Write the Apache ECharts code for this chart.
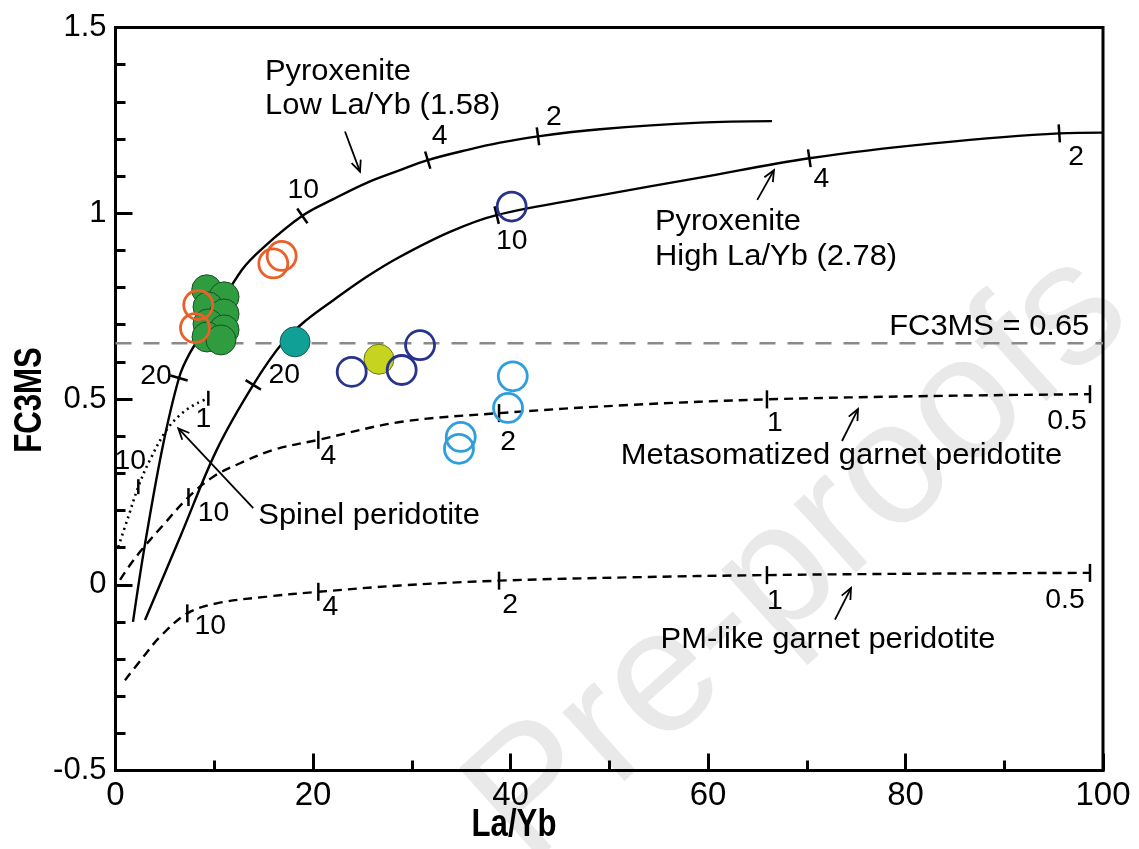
<!DOCTYPE html>
<html>
<head>
<meta charset="utf-8">
<title>FC3MS vs La/Yb</title>
<script src="https://cdn.jsdelivr.net/npm/echarts@6/dist/echarts.min.js"></script>
<style>
  html, body { margin: 0; padding: 0; background: #ffffff; }
  #chart { width: 1139px; height: 849px; }
</style>
</head>
<body>
<div id="chart"></div>
<script>
// ---------------- data ----------------
const xAxisTicks = [0, 20, 40, 60, 80, 100];
const yAxisTicks = [-0.5, 0, 0.5, 1, 1.5];
const fc3msThreshold = 0.65;

// model melt curves: [La/Yb, FC3MS]
const pyroxeniteLow = [
  [1.77, -0.100], [2.89, 0.094], [4.71, 0.363], [6.43, 0.5565], [7.54, 0.624],
  [9.67, 0.713], [12.81, 0.848], [14.94, 0.907], [18.92, 0.993], [22.06, 1.038],
  [25.44, 1.082], [28.81, 1.116], [31.62, 1.143], [35.56, 1.170], [38.94, 1.190],
  [42.78, 1.207], [49.06, 1.226], [59.19, 1.244], [66.48, 1.248]
];
const pyroxeniteHigh = [
  [2.99, -0.095], [6.63, 0.134], [10.25, 0.363], [13.95, 0.538], [17.00, 0.654],
  [19.36, 0.713], [22.06, 0.766], [25.44, 0.829], [28.81, 0.883], [33.87, 0.950],
  [38.60, 0.995], [49.06, 1.048], [59.19, 1.096], [70.26, 1.148], [82.81, 1.188],
  [95.57, 1.215], [100, 1.217]
];
const spinelPeridotite = [
  [0.28, 0.102], [1.30, 0.183], [2.31, 0.264], [3.49, 0.336], [5.18, 0.417],
  [6.70, 0.461], [8.22, 0.488], [9.40, 0.502]
];
const metasomatizedGarnet = [
  [0.46, 0.013], [1.47, 0.053], [2.65, 0.094], [4.84, 0.161], [7.39, 0.236],
  [9.90, 0.291], [12.61, 0.327], [15.98, 0.363], [20.54, 0.390], [28.81, 0.438],
  [38.84, 0.462], [52.10, 0.484], [65.97, 0.499], [82.48, 0.508], [98.68, 0.513]
];
const pmLikeGarnet = [
  [0.96, -0.257], [2.82, -0.194], [4.51, -0.140], [7.27, -0.077], [10.25, -0.050],
  [15.31, -0.032], [20.54, -0.019], [28.81, -0.002], [38.84, 0.011], [52.10, 0.020],
  [65.97, 0.026], [82.48, 0.030], [98.68, 0.032]
];

// melting-degree marks along each curve: [La/Yb, FC3MS, label]
const pyroxeniteLowTicks = [[6.43, 0.5565, '20'], [18.92, 0.993, '10'], [31.62, 1.143, '4'], [42.78, 1.207, '2']];
const pyroxeniteHighTicks = [[13.95, 0.538, '20'], [38.60, 0.995, '10'], [70.26, 1.148, '4'], [95.57, 1.215, '2']];
const spinelTicks = [[2.31, 0.264, '10'], [9.40, 0.502, '1']];
const metasomatizedTicks = [[7.39, 0.236, '10'], [20.54, 0.390, '4'], [38.84, 0.462, '2'], [65.97, 0.499, '1'], [98.68, 0.513, '0.5']];
const pmLikeTicks = [[7.27, -0.077, '10'], [20.54, -0.019, '4'], [38.84, 0.011, '2'], [65.97, 0.026, '1'], [98.68, 0.032, '0.5']];

// samples: [La/Yb, FC3MS]
const samplesOrange = [[8.38, 0.753], [8.05, 0.691], [15.98, 0.865], [16.83, 0.885]];
const samplesGreen = [
  [9.24, 0.794], [10.99, 0.775], [9.37, 0.748], [10.99, 0.729],
  [9.37, 0.702], [10.99, 0.686], [9.27, 0.667], [10.68, 0.659]
];
const samplesTeal = [[18.18, 0.654]];
const samplesYellowGreen = [[26.68, 0.607]];
const samplesNavy = [[23.92, 0.573], [28.98, 0.578], [30.84, 0.645], [40.12, 1.018]];
const samplesLightBlue = [[40.23, 0.561], [39.75, 0.476], [34.96, 0.398], [34.78, 0.366]];

// text annotations: [text, La/Yb, FC3MS]
const annotationTexts = [
  ['Pyroxenite', 15.14, 1.38],
  ['Low La/Yb (1.58)', 15.14, 1.29],
  ['Pyroxenite', 54.63, 0.977],
  ['High La/Yb (2.78)', 54.63, 0.883],
  ['FC3MS = 0.65', 98.61, 0.695],
  ['Spinel peridotite', 14.46, 0.186],
  ['Metasomatized garnet peridotite', 51.16, 0.348],
  ['PM-like garnet peridotite', 55.2, -0.147]
];
// pointer arrows: [fromX, fromY, toX, toY]
const annotationArrows = [
  [23.24, 1.220, 24.76, 1.112],
  [64.99, 1.036, 66.68, 1.116],
  [13.95, 0.206, 6.36, 0.421],
  [73.57, 0.387, 75.19, 0.473],
  [72.86, -0.094, 74.48, -0.009]
];

// ---------------- styling ----------------
const FONT = '"Liberation Sans", Arial, Helvetica, sans-serif';

// pixel offsets of the mark labels from their marks
const lowLabelOffsets = [[-23, -1], [1, -25], [12, -24], [16, -19]];
const highLabelOffsets = [[31, -9], [15, 26], [12, 21], [17, 24]];
const spinelLabelOffsets = [[-8, -25], [-5, 21]];
const metaLabelOffsets = [[25, 16], [10, 17], [9, 29], [8, 24], [-23, 27]];
const pmLabelOffsets = [[23, 13], [12, 16], [11, 25], [8, 26], [-25, 28]];

const chart = echarts.init(document.getElementById('chart'), null, { renderer: 'canvas' });

function curveSeries(name, pts, lineStyle) {
  return {
    type: 'line', name, data: pts, showSymbol: false, symbol: 'none',
    smooth: 0.35, silent: true, z: 3,
    lineStyle: Object.assign({ color: '#000' }, lineStyle)
  };
}

function curveTicks(name, curve, ticks, normal, length, labelOffsets) {
  return {
    type: 'custom', name, coordinateSystem: 'cartesian2d', clip: false, silent: true, z: 4,
    data: ticks.map(t => [t[0], t[1]]),
    encode: { x: 0, y: 1 },
    renderItem(params, api) {
      const t = ticks[params.dataIndex];
      const p = api.coord([t[0], t[1]]);
      let nx = 0, ny = 1;
      if (normal) {
        // local direction from the neighbouring curve vertices
        let k = 0, best = Infinity;
        curve.forEach((c, i) => {
          const d = Math.hypot(c[0] - t[0], (c[1] - t[1]) * 50);
          if (d < best) { best = d; k = i; }
        });
        const a = api.coord(curve[Math.max(k - 1, 0)]);
        const b = api.coord(curve[Math.min(k + 1, curve.length - 1)]);
        const tx = b[0] - a[0], ty = b[1] - a[1];
        const l = Math.hypot(tx, ty) || 1;
        nx = -ty / l; ny = tx / l;
      }
      const h = length / 2;
      const off = labelOffsets[params.dataIndex];
      return {
        type: 'group',
        children: [
          { type: 'line', shape: { x1: p[0] - nx * h, y1: p[1] - ny * h, x2: p[0] + nx * h, y2: p[1] + ny * h },
            style: { stroke: '#000', lineWidth: 2.5 } },
          { type: 'text', x: p[0] + off[0], y: p[1] + off[1], scaleX: 1.05,
            style: { text: t[2], fill: '#000', font: '27px ' + FONT, align: 'center', verticalAlign: 'middle' } }
        ]
      };
    }
  };
}

function sampleSeries(name, pts, filled, color, border) {
  return {
    type: 'scatter', name, data: pts, symbol: 'circle', silent: true,
    symbolSize: filled ? 30 : 29,
    z: filled ? 5 : 6,
    itemStyle: filled
      ? { color: color, borderColor: border, borderWidth: 1, opacity: 1 }
      : { color: 'rgba(0,0,0,0)', borderColor: color, borderWidth: 2.8, opacity: 1 }
  };
}

const option = {
  animation: false,
  backgroundColor: '#ffffff',
  grid: {
    left: 115.5, right: 36, top: 27.5, bottom: 78.5,
    show: true, borderColor: '#000', borderWidth: 3, backgroundColor: 'rgba(0,0,0,0)'
  },
  xAxis: {
    type: 'value',
    min: xAxisTicks[0], max: xAxisTicks[xAxisTicks.length - 1],
    interval: xAxisTicks[1] - xAxisTicks[0],
    axisLine: { show: true, onZero: false, lineStyle: { color: '#000', width: 3 } },
    axisTick: { show: true, inside: true, length: 17, lineStyle: { color: '#000', width: 3 } },
    minorTick: { show: true, splitNumber: 2, length: 10, lineStyle: { color: '#000', width: 3 } },
    splitLine: { show: false },
    axisLabel: { color: '#000', fontSize: 33, fontFamily: FONT, margin: 9 }
  },
  yAxis: {
    type: 'value',
    min: yAxisTicks[0], max: yAxisTicks[yAxisTicks.length - 1],
    interval: yAxisTicks[1] - yAxisTicks[0],
    axisLine: { show: true, onZero: false, lineStyle: { color: '#000', width: 3 } },
    axisTick: { show: true, inside: true, length: 17, lineStyle: { color: '#000', width: 3 } },
    minorTick: { show: true, splitNumber: 5, length: 10, lineStyle: { color: '#000', width: 3 } },
    splitLine: { show: false },
    axisLabel: { color: '#000', fontSize: 31, fontFamily: FONT, margin: 9 }
  },
  graphic: [
    {
      // faint diagonal stamp behind the plot
      type: 'text', x: 800, y: 558, rotation: 42 * Math.PI / 180, z: -100, silent: true,
      style: { text: 'Pre-proofs', font: '175px ' + FONT, fill: '#e9e9e9', align: 'center', verticalAlign: 'middle' }
    },
    {
      // axis titles in a condensed bold face
      type: 'text', x: 514, y: 826, scaleX: 0.82, silent: true,
      style: { text: 'La/Yb', font: 'bold 38px ' + FONT, fill: '#000', align: 'center', verticalAlign: 'middle' }
    },
    {
      type: 'text', x: 31, y: 400, rotation: Math.PI / 2, scaleX: 0.82, silent: true,
      style: { text: 'FC3MS', font: 'bold 38px ' + FONT, fill: '#000', align: 'center', verticalAlign: 'middle' }
    }
  ],
  series: [
    {
      type: 'line', name: 'FC3MS threshold', silent: true, z: 2, showSymbol: false, symbol: 'none',
      data: [[xAxisTicks[0], fc3msThreshold], [xAxisTicks[xAxisTicks.length - 1], fc3msThreshold]],
      lineStyle: { color: '#8a8a8a', width: 2.5, type: [16, 12] }
    },
    curveSeries('Pyroxenite Low La/Yb', pyroxeniteLow, { width: 2.4, type: 'solid' }),
    curveSeries('Pyroxenite High La/Yb', pyroxeniteHigh, { width: 2.4, type: 'solid' }),
    curveSeries('Spinel peridotite', spinelPeridotite, { width: 2.6, type: [2, 4] }),
    curveSeries('Metasomatized garnet peridotite', metasomatizedGarnet, { width: 2.4, type: [9, 6] }),
    curveSeries('PM-like garnet peridotite', pmLikeGarnet, { width: 2.4, type: [9, 6] }),

    curveTicks('Low marks', pyroxeniteLow, pyroxeniteLowTicks, true, 18, lowLabelOffsets),
    curveTicks('High marks', pyroxeniteHigh, pyroxeniteHighTicks, true, 18, highLabelOffsets),
    curveTicks('Spinel marks', spinelPeridotite, spinelTicks, false, 15, spinelLabelOffsets),
    curveTicks('Metasomatized marks', metasomatizedGarnet, metasomatizedTicks, false, 18, metaLabelOffsets),
    curveTicks('PM marks', pmLikeGarnet, pmLikeTicks, false, 18, pmLabelOffsets),

    sampleSeries('Green', samplesGreen, true, '#2f9c3f', '#1c4f22'),
    sampleSeries('Teal', samplesTeal, true, '#10a096', '#165c55'),
    sampleSeries('Yellow-green', samplesYellowGreen, true, '#c6d31f', '#6f7418'),
    sampleSeries('Orange', samplesOrange, false, '#e8612a'),
    sampleSeries('Navy', samplesNavy, false, '#28338c'),
    sampleSeries('Light blue', samplesLightBlue, false, '#2f9edd'),

    {
      type: 'custom', name: 'Labels', coordinateSystem: 'cartesian2d', clip: false, silent: true, z: 7,
      data: annotationTexts.map(a => [a[1], a[2]]),
      encode: { x: 0, y: 1 },
      renderItem(params, api) {
        const a = annotationTexts[params.dataIndex];
        const p = api.coord([a[1], a[2]]);
        return {
          type: 'text', x: p[0], y: p[1], scaleX: 1.03,
          style: { text: a[0], fill: '#000', font: '30px ' + FONT,
                   align: a[0].startsWith('FC3MS') ? 'right' : 'left', verticalAlign: 'middle' }
        };
      }
    },
    {
      type: 'custom', name: 'Arrows', coordinateSystem: 'cartesian2d', clip: false, silent: true, z: 7,
      data: annotationArrows,
      encode: { x: [0, 2], y: [1, 3] },
      renderItem(params, api) {
        const s = api.coord([api.value(0), api.value(1)]);
        const e = api.coord([api.value(2), api.value(3)]);
        const ang = Math.atan2(e[1] - s[1], e[0] - s[0]);
        const L = 12, th = 24 * Math.PI / 180;
        const h1 = [e[0] - L * Math.cos(ang - th), e[1] - L * Math.sin(ang - th)];
        const h2 = [e[0] - L * Math.cos(ang + th), e[1] - L * Math.sin(ang + th)];
        const st = { stroke: '#000', lineWidth: 1.8, fill: null };
        return {
          type: 'group',
          children: [
            { type: 'line', shape: { x1: s[0], y1: s[1], x2: e[0], y2: e[1] }, style: st },
            { type: 'polyline', shape: { points: [h1, e, h2] }, style: st }
          ]
        };
      }
    }
  ]
};

chart.setOption(option);
</script>
</body>
</html>
